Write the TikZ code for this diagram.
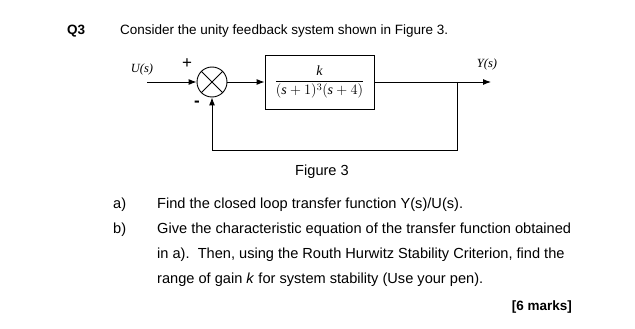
\documentclass[tikz,border=0pt]{standalone}
\usepackage{fontspec}
\setmainfont{Liberation Sans}
\newfontfamily\tmsfont{Liberation Serif}
\usepackage{amsmath}
\usetikzlibrary{arrows.meta}

\newcommand{\sv}{\textit{s}}

\begin{document}
\begin{tikzpicture}[x=1pt,y=-1pt,
        sig/.style={-{Latex[length=8pt,width=6pt]},line width=0.9pt},
        wire/.style={line width=0.9pt},
        txt/.style={inner sep=0pt,anchor=base west,font=\fontsize{14.6}{17}\selectfont},
        lbl/.style={inner sep=0pt,font=\tmsfont\itshape\fontsize{12.5}{14}\selectfont}]
        \useasboundingbox (0,0) rectangle (635,329);
        % heading
        \node[txt,font=\bfseries\fontsize{13.5}{16}\selectfont] (qno) at (67,35) {Q3};
        \node[txt,font=\fontsize{13.5}{16}\selectfont] (intro) at (120,35) {Consider the unity feedback system shown in Figure 3.};
        % block diagram
        \node[lbl] (uin) at (142,69) {U(s)};
        \coordinate (uin0) at (147,82);
        \node[draw,circle,wire,minimum size=30pt,inner sep=0pt] (sum) at (212,82) {};
        \draw[wire] (sum.north west) -- (sum.south east);
        \draw[wire] (sum.north east) -- (sum.south west);
        \node[font=\fontsize{17}{18}\selectfont,inner sep=0pt] (plus) at (187,64) {+};
        \node[font=\bfseries\fontsize{17}{18}\selectfont,inner sep=0pt] (minus) at (197,104) {-};
        \node[draw,wire,minimum width=109pt,minimum height=54pt,inner sep=0pt] (plant) at (319.5,82)
            {\tmsfont\fontsize{14}{16}\selectfont$\dfrac{\textit{k}}{(\sv+1)^{3}(\sv+4)}$};
        \coordinate (branch) at (457,82);
        \coordinate (yout) at (491,82);
        \coordinate (fbr) at (457,150);
        \coordinate (fbl) at (212,150);
        \node[lbl] (ylbl) at (487,64) {Y(s)};
        \draw[sig] (uin0) -- (sum.west);
        \draw[sig] (sum.east) -- (plant.west);
        \draw[sig] (plant.east) -- (yout);
        \draw[sig] (branch) -- (fbr) -- (fbl) -- (sum.south);
        \node[txt,anchor=center] (cap) at (322,172) {Figure 3};
        % parts
        \node[txt] (pa) at (113,208) {a)};
        \node[txt] (pat) at (157,208) {Find the closed loop transfer function Y(s)/U(s).};
        \node[txt] (pb) at (113,233) {b)};
        \node[txt] (pbt1) at (157,233) {Give the characteristic equation of the transfer function obtained};
        \node[txt] (pbt2) at (157,258) {in a).\ \ Then, using the Routh Hurwitz Stability Criterion, find the};
        \node[txt] (pbt3) at (157,283) {range of gain \textit{k} for system stability (Use your pen).};
        \node[txt,anchor=base east,font=\bfseries\fontsize{13.5}{16}\selectfont] (marks) at (572,310) {[6 marks]};
\end{tikzpicture}
\end{document}
